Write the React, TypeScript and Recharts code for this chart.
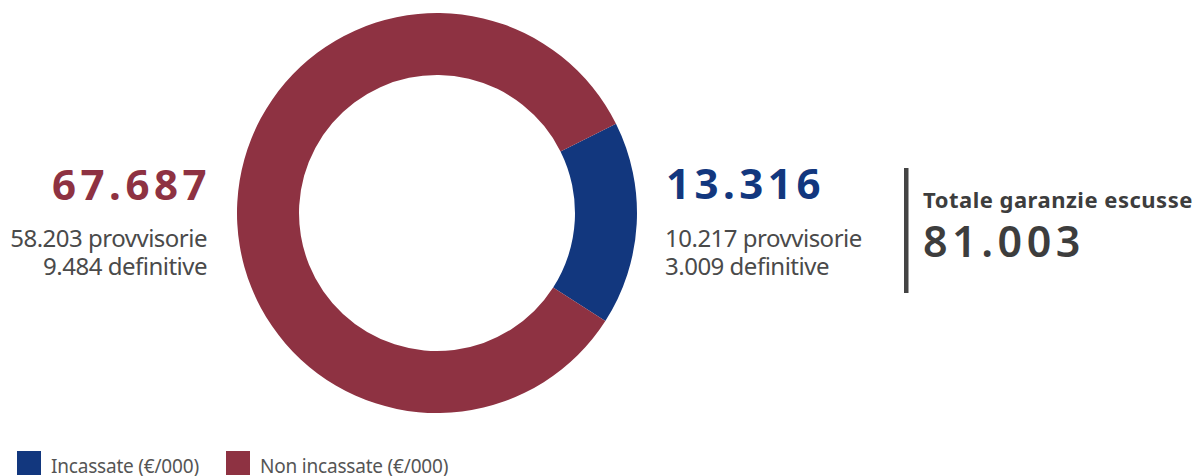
import React from "react";
import { PieChart, Pie, Cell, Legend } from "recharts";

const categories = ["Incassate (€/000)", "Non incassate (€/000)"];
const values = [13316, 67687];
const provvisorie = [10217, 58203];
const definitive = [3009, 9484];
const colors = ["#12377E", "#8E3242"];
const totalLabel = "Totale garanzie escusse";

const fmt = (n: number) => n.toLocaleString("de-DE");

const data = categories.map((name, i) => ({ name, value: values[i] }));
const total = values.reduce((a, b) => a + b, 0);

const FONT = "'Noto Sans', 'Open Sans', sans-serif";
const GRAY = "#4a4a4a";

const LegendContent = (props: any) => {
  const payload = props.payload || [];
  const xs = [17, 226];
  return (
    <svg width={600} height={25} style={{ display: "block", fontFamily: FONT }}>
      {payload.map((p: any, i: number) => (
        <g key={i}>
          <rect x={xs[i]} y={0} width={24} height={24} fill={p.color} />
          <text x={xs[i] + 34} y={21.5} fontSize={19} letterSpacing={-0.2} fill="#555">
            {p.value}
          </text>
        </g>
      ))}
    </svg>
  );
};

export default function App() {
  const startAngle = 26.5;
  return (
    <div style={{ position: "absolute", left: 0, top: 0, width: 1198, height: 476, background: "#fff", overflow: "hidden" }}>
      <PieChart width={1198} height={476} margin={{ top: 0, right: 0, bottom: 0, left: 0 }}>
        <Pie
          data={data}
          dataKey="value"
          nameKey="name"
          cx={437}
          cy={213}
          innerRadius={138}
          outerRadius={200}
          startAngle={startAngle}
          endAngle={startAngle - 360}
          stroke="none"
          isAnimationActive={false}
        >
          {data.map((d, i) => (
            <Cell key={d.name} fill={colors[i]} />
          ))}
        </Pie>
        <Legend
          content={<LegendContent />}
          wrapperStyle={{ position: "absolute", left: 0, top: 451, width: 600, height: 25, bottom: "auto" }}
        />
      </PieChart>
      <svg width={1198} height={476} style={{ position: "absolute", left: 0, top: 0, pointerEvents: "none", fontFamily: FONT }}>
        <text x={211} y={200} textAnchor="end" fontSize={42} fontWeight={700} fill={colors[1]} letterSpacing={4.5}>
          {fmt(values[1])}
        </text>
        <text x={207} y={247} textAnchor="end" fontSize={24} fill={GRAY} letterSpacing={-0.5}>
          {fmt(provvisorie[1])} provvisorie
        </text>
        <text x={207} y={275} textAnchor="end" fontSize={24} fill={GRAY} letterSpacing={-0.5}>
          {fmt(definitive[1])} definitive
        </text>

        <text x={666} y={199} textAnchor="start" fontSize={42} fontWeight={700} fill={colors[0]} letterSpacing={4.5}>
          {fmt(values[0])}
        </text>
        <text x={665} y={247} textAnchor="start" fontSize={24} fill={GRAY} letterSpacing={-0.5}>
          {fmt(provvisorie[0])} provvisorie
        </text>
        <text x={665} y={275} textAnchor="start" fontSize={24} fill={GRAY} letterSpacing={-0.5}>
          {fmt(definitive[0])} definitive
        </text>

        <rect x={904} y={168} width={4.5} height={125} fill="#444" />
        <text x={923} y={208} fontSize={22} fontWeight={700} fill="#3d3d3d" letterSpacing={0.5}>
          {totalLabel}
        </text>
        <text x={923} y={257} fontSize={43} fontWeight={600} fill="#3d3d3d" letterSpacing={4.5}>
          {fmt(total)}
        </text>
      </svg>
    </div>
  );
}
